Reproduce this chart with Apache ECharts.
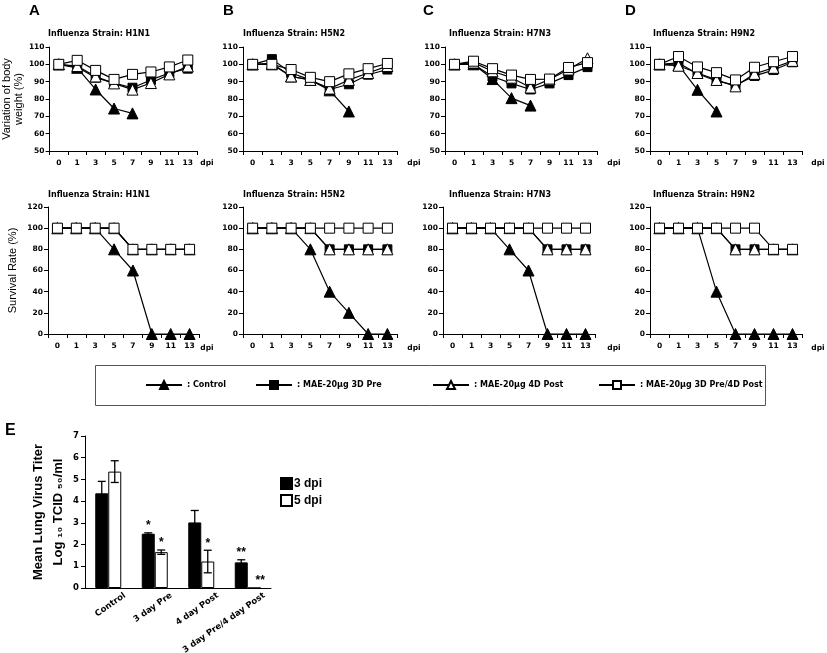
<!DOCTYPE html>
<html><head><meta charset="utf-8">
<script src="https://cdn.jsdelivr.net/npm/echarts@6/dist/echarts.min.js"></script>
<style>html,body{margin:0;padding:0;background:#fff}#c{width:827px;height:653px}</style>
</head><body><div id="c"></div>
<script>
// ---------- data ----------
const days = ['0', '1', '3', '5', '7', '9', '11', '13'];
const strains = ['H1N1', 'H5N2', 'H7N3', 'H9N2'];
const groupNames = ['Control', 'MAE-20μg 3D Pre', 'MAE-20μg 4D Post', 'MAE-20μg 3D Pre/4D Post'];
const weightTicks = [50, 110, 10];
const survivalTicks = [0, 120, 20];

// body weight (%)
const bwH1N1Control = [100, 98, 85.5, 74.5, 71.7, null, null, null];
const bwH1N1Pre     = [100, 98.5, 92.3, 89.2, 86.5, 91, 95, 97.5];
const bwH1N1Post    = [100, 99, 93, 89, 85.4, 89.2, 94.2, 98.8];
const bwH1N1PrePost = [100, 102.3, 96.5, 91.3, 94.2, 95.6, 98.5, 102.5];

const bwH5N2Control = [100, 100.5, 93, 91, 85, 72.8, null, null];
const bwH5N2Pre     = [100, 103, 95, 91, 85.5, 88.5, 94, 97];
const bwH5N2Post    = [100, 100, 93, 91, 86, 91, 95, 99];
const bwH5N2PrePost = [100, 100, 97, 92.5, 90, 94.5, 97.5, 100.5];

const bwH7N3Control = [100, 100, 91.5, 80.5, 76.2, null, null, null];
const bwH7N3Pre     = [100, 100, 93, 89, 85.5, 89, 93.8, 98.4];
const bwH7N3Post    = [100, 101, 96, 92.3, 86.6, 91.3, 97, 103.5];
const bwH7N3PrePost = [100, 101.8, 97.5, 93.8, 91.3, 91.5, 98.2, 101];

const bwH9N2Control = [100, 99.5, 85.3, 72.8, null, null, null, null];
const bwH9N2Pre     = [100, 100.8, 94.6, 90.4, 88, 93.3, 96.7, 101.2];
const bwH9N2Post    = [100, 99.2, 95, 91, 87.3, 94.5, 98, 102];
const bwH9N2PrePost = [100, 104.5, 98.5, 95.2, 91, 98.3, 101.5, 104.5];

// survival rate (%)
const svH1N1Control = [100, 100, 100, 80, 60, 0, 0, 0];
const svH1N1Pre     = [100, 100, 100, 100, 80, 80, 80, 80];
const svH1N1Post    = [100, 100, 100, 100, 80, 80, 80, 80];
const svH1N1PrePost = [100, 100, 100, 100, 80, 80, 80, 80];

const svH5N2Control = [100, 100, 100, 80, 40, 20, 0, 0];
const svH5N2Pre     = [100, 100, 100, 100, 80, 80, 80, 80];
const svH5N2Post    = [100, 100, 100, 100, 80, 80, 80, 80];
const svH5N2PrePost = [100, 100, 100, 100, 100, 100, 100, 100];

const svH7N3Control = [100, 100, 100, 80, 60, 0, 0, 0];
const svH7N3Pre     = [100, 100, 100, 100, 100, 80, 80, 80];
const svH7N3Post    = [100, 100, 100, 100, 100, 80, 80, 80];
const svH7N3PrePost = [100, 100, 100, 100, 100, 100, 100, 100];

const svH9N2Control = [100, 100, 100, 40, 0, 0, 0, 0];
const svH9N2Pre     = [100, 100, 100, 100, 80, 80, 80, 80];
const svH9N2Post    = [100, 100, 100, 100, 80, 80, 80, 80];
const svH9N2PrePost = [100, 100, 100, 100, 100, 100, 80, 80];

// lung virus titer (log10 TCID50/ml)
const titerGroups = ['Control', '3 day Pre', '4 day Post', '3 day Pre/4 day Post'];
const titer3dpi    = [4.36, 2.5, 3.02, 1.18];
const titer3dpiErr = [0.55, 0.04, 0.55, 0.12];
const titer5dpi    = [5.36, 1.65, 1.22, 0];
const titer5dpiErr = [0.5, 0.1, 0.52, 0];
const sig3dpi = ['', '*', '', '**'];
const sig5dpi = ['', '*', '*', '**'];
const titerTicks = [0, 7, 1];

// ---------- build ----------
const bw = [
  [bwH1N1Control, bwH1N1Pre, bwH1N1Post, bwH1N1PrePost],
  [bwH5N2Control, bwH5N2Pre, bwH5N2Post, bwH5N2PrePost],
  [bwH7N3Control, bwH7N3Pre, bwH7N3Post, bwH7N3PrePost],
  [bwH9N2Control, bwH9N2Pre, bwH9N2Post, bwH9N2PrePost]
];
const sv = [
  [svH1N1Control, svH1N1Pre, svH1N1Post, svH1N1PrePost],
  [svH5N2Control, svH5N2Pre, svH5N2Post, svH5N2PrePost],
  [svH7N3Control, svH7N3Pre, svH7N3Post, svH7N3PrePost],
  [svH9N2Control, svH9N2Pre, svH9N2Post, svH9N2PrePost]
];

const FONT = "'DejaVu Sans', Verdana, sans-serif";
const ARIAL = "'Liberation Sans', Arial, 'DejaVu Sans', sans-serif";

const groupStyles = [
  { symbol: 'triangle', size: 11, fill: '#000' },
  { symbol: 'rect', size: 9, fill: '#000' },
  { symbol: 'triangle', size: 11, fill: '#fff' },
  { symbol: 'rect', size: 10, fill: '#fff' }
];

const topLefts = [46, 243, 445, 650];
const botLefts = [48, 243, 443, 650];
const widths = [151, 154, 152, 152];

const grids = [], xAxes = [], yAxes = [], series = [], titles = [], graphics = [];

function mkX(idx) {
  return {
    type: 'category', gridIndex: idx, data: days, boundaryGap: true,
    axisLine: { lineStyle: { color: '#000', width: 1 } },
    axisTick: { show: true, length: 4, lineStyle: { color: '#000' } },
    axisLabel: { color: '#000', fontFamily: FONT, fontWeight: 'bold', fontSize: 7.5, margin: 8, interval: 0 },
    splitLine: { show: false }
  };
}
function mkY(idx, t) {
  return {
    type: 'value', gridIndex: idx, min: t[0], max: t[1], interval: t[2],
    axisLine: { show: true, lineStyle: { color: '#000', width: 1 } },
    axisTick: { show: true, length: 4, lineStyle: { color: '#000' } },
    axisLabel: { color: '#000', fontFamily: FONT, fontWeight: 'bold', fontSize: 7.5, margin: 5 },
    splitLine: { show: false }
  };
}
function mkLine(name, data, g, idx) {
  const s = groupStyles[g];
  return {
    type: 'line', name: name, data: data, xAxisIndex: idx, yAxisIndex: idx,
    symbol: s.symbol, symbolSize: s.size, showSymbol: true,
    itemStyle: { color: s.fill, borderColor: '#000', borderWidth: 1 },
    lineStyle: { color: '#000', width: 1.2 },
    emphasis: { disabled: true }, animation: false
  };
}

const letters = ['A', 'B', 'C', 'D'];
const letterLefts = [29, 223, 423, 625];
const titleLefts = [48, 243, 449, 653];
const dpiX = [207, 414, 614, 818];

for (let p = 0; p < 4; p++) {
  grids.push({ left: topLefts[p], top: 47, width: widths[p], height: 104 });
  xAxes.push(mkX(p));
  const yw = mkY(p, weightTicks);
  if (p === 0) {
    yw.name = 'Variation of body\nweight (%)';
    yw.nameLocation = 'middle'; yw.nameRotate = 90; yw.nameGap = 18;
    yw.nameTextStyle = { fontFamily: ARIAL, fontSize: 11, color: '#000', lineHeight: 12 };
  }
  yAxes.push(yw);
  for (let g = 0; g < 4; g++) series.push(mkLine(groupNames[g], bw[p][g], g, p));
  titles.push({ text: 'Influenza Strain: ' + strains[p], left: titleLefts[p], top: 30, padding: 0,
    textStyle: { fontFamily: FONT, fontWeight: 'bold', fontSize: 8, color: '#000' } });
  titles.push({ text: letters[p], left: letterLefts[p], top: 3, padding: 0,
    textStyle: { fontFamily: ARIAL, fontWeight: 'bold', fontSize: 15, color: '#000' } });
  graphics.push({ type: 'text', x: dpiX[p], y: 163, style: { text: 'dpi', textAlign: 'center', textVerticalAlign: 'middle', font: 'bold 7.5px ' + FONT, fill: '#000' } });
}
for (let p = 0; p < 4; p++) {
  const idx = p + 4;
  grids.push({ left: botLefts[p], top: 207, width: widths[p], height: 127 });
  xAxes.push(mkX(idx));
  const ys = mkY(idx, survivalTicks);
  if (p === 0) {
    ys.name = 'Survival Rate (%)';
    ys.nameLocation = 'middle'; ys.nameRotate = 90; ys.nameGap = 30;
    ys.nameTextStyle = { fontFamily: ARIAL, fontSize: 11, color: '#000' };
  }
  yAxes.push(ys);
  for (let g = 0; g < 4; g++) series.push(mkLine(groupNames[g], sv[p][g], g, idx));
  titles.push({ text: 'Influenza Strain: ' + strains[p], left: titleLefts[p], top: 191, padding: 0,
    textStyle: { fontFamily: FONT, fontWeight: 'bold', fontSize: 8, color: '#000' } });
  graphics.push({ type: 'text', x: dpiX[p], y: 348, style: { text: 'dpi', textAlign: 'center', textVerticalAlign: 'middle', font: 'bold 7.5px ' + FONT, fill: '#000' } });
}

// panel E
grids.push({ left: 85, top: 436, width: 186, height: 152 });
xAxes.push({
  type: 'category', gridIndex: 8, data: titerGroups, boundaryGap: true,
  axisLine: { lineStyle: { color: '#000', width: 1 } },
  axisTick: { show: false },
  axisLabel: { show: false }
});
yAxes.push({
  type: 'value', gridIndex: 8, min: titerTicks[0], max: titerTicks[1], interval: titerTicks[2],
  axisLine: { show: true, lineStyle: { color: '#000', width: 1 } },
  axisTick: { show: true, length: 4, lineStyle: { color: '#000' } },
  axisLabel: { color: '#000', fontFamily: FONT, fontWeight: 'bold', fontSize: 8.5, margin: 6 },
  splitLine: { show: false },
  name: 'Mean Lung Virus Titer\nLog \u2081\u2080 TCID \u2085\u2080/ml',
  nameLocation: 'middle', nameRotate: 90, nameGap: 17,
  nameTextStyle: { fontFamily: ARIAL, fontWeight: 'bold', fontSize: 13, color: '#000', lineHeight: 20 }
});
titles.push({ text: 'E', left: 5, top: 423, padding: 0,
  textStyle: { fontFamily: ARIAL, fontWeight: 'bold', fontSize: 16, color: '#000' } });

series.push({ type: 'bar', name: '3 dpi', xAxisIndex: 8, yAxisIndex: 8, data: titer3dpi,
  barWidth: 13, barGap: '0%', itemStyle: { color: '#000', borderColor: '#000', borderWidth: 1 }, animation: false });
series.push({ type: 'bar', name: '5 dpi', xAxisIndex: 8, yAxisIndex: 8, data: titer5dpi,
  barWidth: 13, barGap: '0%', itemStyle: { color: '#fff', borderColor: '#000', borderWidth: 1 }, animation: false });

function errSeries(vals, errs, sigs, offset) {
  return {
    type: 'custom', xAxisIndex: 8, yAxisIndex: 8, z: 5, animation: false, silent: true,
    encode: { x: 0, y: 1 },
    data: vals.map((v, i) => [i, v, errs[i]]),
    renderItem: function (params, api) {
      const i = api.value(0), v = api.value(1), e = api.value(2);
      const top = api.coord([i, v + e]);
      const bot = api.coord([i, v - e]);
      const x = top[0] + offset;
      const ch = [];
      const ls = { stroke: '#000', lineWidth: 1.3 };
      if (e > 0) {
        ch.push({ type: 'line', shape: { x1: x, y1: top[1], x2: x, y2: bot[1] }, style: ls });
        ch.push({ type: 'line', shape: { x1: x - 4, y1: top[1], x2: x + 4, y2: top[1] }, style: ls });
        ch.push({ type: 'line', shape: { x1: x - 4, y1: bot[1], x2: x + 4, y2: bot[1] }, style: ls });
      }
      const sg = sigs[params.dataIndex];
      if (sg) {
        ch.push({ type: 'text', x: x + (v === 0 ? 6 : 0), y: top[1] - 1,
          style: { text: sg, textAlign: 'center', textVerticalAlign: 'bottom', font: 'bold 12px ' + ARIAL, fill: '#000' } });
      }
      return { type: 'group', children: ch };
    }
  };
}
series.push(errSeries(titer3dpi, titer3dpiErr, sig3dpi, -6.5));
series.push(errSeries(titer5dpi, titer5dpiErr, sig5dpi, 6.5));

// rotated category labels for panel E, placed from the category scale
series.push({
  type: 'custom', xAxisIndex: 8, yAxisIndex: 8, animation: false, silent: true, clip: false,
  encode: { x: 0, y: 1 },
  data: titerGroups.map((g, i) => [i, 0]),
  renderItem: function (params, api) {
    const c = api.coord([api.value(0), 0]);
    return {
      type: 'text', x: c[0] + 14, y: c[1] + 3, rotation: 35 * Math.PI / 180,
      style: { text: titerGroups[params.dataIndex], textAlign: 'right', textVerticalAlign: 'top',
        font: 'bold 8.5px ' + FONT, fill: '#000' }
    };
  }
});

// legend box
graphics.push({ type: 'rect', shape: { x: 95.5, y: 365.5, width: 670, height: 40 },
  style: { fill: 'none', stroke: '#555', lineWidth: 1 } });

const legendLefts = [145, 255, 432, 598];
const legends = groupNames.map((n, i) => ({
  data: [n], left: legendLefts[i], top: 380, orient: 'horizontal',
  itemWidth: 36, itemHeight: 10, padding: 0, selectedMode: false,
  formatter: ': {name}',
  textStyle: { fontFamily: FONT, fontWeight: 'bold', fontSize: 8, color: '#000' }
}));
legends.push({
  data: ['3 dpi', '5 dpi'], left: 280, top: 477, orient: 'vertical',
  itemWidth: 11, itemHeight: 11, itemGap: 4, padding: 0, selectedMode: false, icon: 'rect',
  textStyle: { fontFamily: ARIAL, fontWeight: 'bold', fontSize: 12, color: '#000', padding: [0, 0, 0, -3] }
});

const chart = echarts.init(document.getElementById('c'), null, { renderer: 'canvas' });
chart.setOption({
  backgroundColor: '#fff',
  animation: false,
  title: titles,
  grid: grids,
  xAxis: xAxes,
  yAxis: yAxes,
  legend: legends,
  graphic: graphics,
  series: series
});
</script></body></html>
